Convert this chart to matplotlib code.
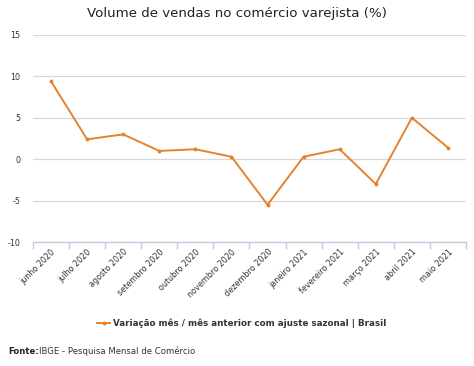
import matplotlib
matplotlib.use("Agg")
import matplotlib.pyplot as plt
from matplotlib.lines import Line2D

months = ["junho 2020", "julho 2020", "agosto 2020", "setembro 2020", "outubro 2020",
          "novembro 2020", "dezembro 2020", "janeiro 2021", "fevereiro 2021",
          "março 2021", "abril 2021", "maio 2021"]
values = [9.4, 2.4, 3.0, 1.0, 1.2, 0.3, -5.5, 0.3, 1.2, -3.0, 5.0, 1.4]
yticks = [-10, -5, 0, 5, 10, 15]

title = "Volume de vendas no comércio varejista (%)"
series_name = "Variação mês / mês anterior com ajuste sazonal | Brasil"

W, H = 474, 366
fig = plt.figure(figsize=(W / 100, H / 100), dpi=100)
ax = fig.add_axes([33 / W, 1 - 242 / H, (466 - 33) / W, (242 - 35) / H])

color = "#e5822f"
x = list(range(len(months)))
ax.plot(x, values, color=color, lw=1.4, marker="o", markersize=1.8, zorder=3)

ax.set_xlim(-0.5, len(months) - 0.5)
ax.set_ylim(-10, 15)
ax.set_yticks(yticks)
ax.set_yticklabels([str(v) for v in yticks], fontsize=5.8, color="#333333")
ax.grid(axis="y", color="#d8d8d8", lw=0.9)
ax.set_axisbelow(True)
for s in ["top", "right", "left"]:
    ax.spines[s].set_visible(False)
ax.spines["bottom"].set_color("#c0cfe0")
ax.spines["bottom"].set_linewidth(1.0)
ax.tick_params(axis="y", length=0, pad=9)

ax.set_xticks([i - 0.5 for i in range(len(months) + 1)], minor=False)
ax.set_xticklabels([""] * (len(months) + 1))
ax.tick_params(axis="x", which="major", length=5, color="#c0cfe0", width=1.0)
ax.set_xticks(x, minor=True)
ax.set_xticklabels(months, minor=True, rotation=45, ha="right", rotation_mode="anchor",
                   fontsize=5.8, color="#333333")
ax.tick_params(axis="x", which="minor", length=0, pad=4)

fig.text(237 / W, 1 - 14 / H, title, ha="center", va="center", fontsize=9.6, color="#222222")

lx0 = 97 / W
ly = 1 - 323 / H
fig.add_artist(Line2D([lx0, lx0 + 13 / W], [ly, ly], color=color, lw=1.4, transform=fig.transFigure))
fig.add_artist(Line2D([lx0 + 6.5 / W], [ly], color=color, marker="o", markersize=1.8,
                      transform=fig.transFigure))
fig.text(lx0 + 16 / W, ly, series_name, ha="left", va="center", fontsize=6.3,
         fontweight="bold", color="#333333")

fig.text(8 / W, 1 - 351 / H, "Fonte:", ha="left", va="center", fontsize=6.1,
         fontweight="bold", color="#222222")
fig.text(39 / W, 1 - 351 / H, "IBGE - Pesquisa Mensal de Comércio", ha="left", va="center",
         fontsize=6.1, color="#333333")

fig.savefig("out.png", dpi=100)
